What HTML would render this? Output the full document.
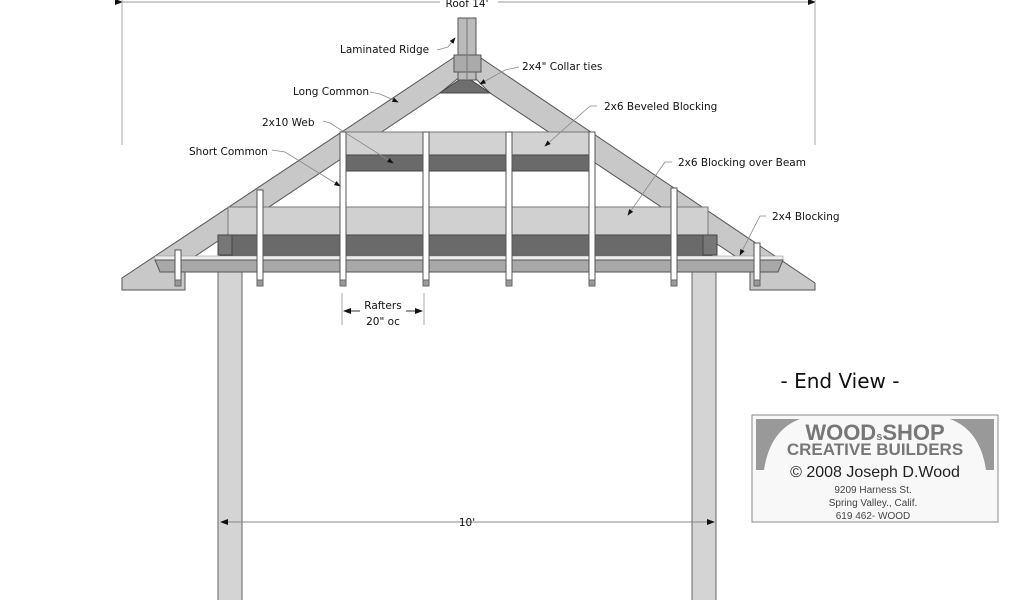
<!DOCTYPE html>
<html><head><meta charset="utf-8"><style>
html,body{margin:0;padding:0;background:#fff;width:1024px;height:600px;overflow:hidden}
text{font-family:"Liberation Sans",sans-serif}
.c{font-family:"DejaVu Sans","Liberation Sans",sans-serif;font-size:10.5px;fill:#111}
</style></head><body>
<svg width="1024" height="600" viewBox="0 0 1024 600" xmlns="http://www.w3.org/2000/svg">
<defs><marker id="a" markerWidth="8" markerHeight="6" refX="7" refY="3" orient="auto"><path d="M0,0 L8,3 L0,6z" fill="#111"/></marker></defs>
<line x1="122" y1="2" x2="815" y2="2" stroke="#999" marker-start="url(#a)" marker-end="url(#a)"/>
<line x1="122" y1="0" x2="122" y2="145" stroke="#aaa"/>
<line x1="815" y1="0" x2="815" y2="145" stroke="#aaa"/>
<rect x="440" y="0" width="58" height="8" fill="#fff"/>
<text x="467" y="7" class="c" text-anchor="middle">Roof 14'</text>
<rect x="218" y="272" width="24" height="330" fill="#d4d4d4" stroke="#666"/>
<rect x="692" y="272" width="24" height="330" fill="#d4d4d4" stroke="#666"/>
<polygon points="122,278 462,52 462,75 440,93 185,263 185,290 122,290" fill="#c8c8c8" stroke="#555"/>
<polygon points="815,283 472,52 472,75 490,93 750,266 750,290 815,290" fill="#c8c8c8" stroke="#555"/>
<polygon points="440,93 490,93 465,76" fill="#6e6e6e" stroke="#444"/>
<rect x="458" y="18" width="18" height="62" fill="#bbb" stroke="#555"/>
<rect x="454" y="55" width="27" height="17" fill="#aaa" stroke="#555"/>
<line x1="467" y1="18" x2="467" y2="80" stroke="#777"/>
<rect x="340" y="132" width="254" height="23" fill="#d2d2d2" stroke="#777"/>
<rect x="343" y="155" width="250" height="16" fill="#6a6a6a" stroke="#444"/>
<rect x="228" y="207" width="480" height="28" fill="#d0d0d0" stroke="#777"/>
<rect x="220" y="235" width="492" height="21" fill="#6a6a6a" stroke="#444"/>
<rect x="218" y="235" width="14" height="20" fill="#777" stroke="#444"/>
<rect x="703" y="235" width="14" height="20" fill="#777" stroke="#444"/>
<rect x="155" y="256" width="628" height="4" fill="#eee" stroke="#888" stroke-width=".5"/>
<polygon points="155,260 783,260 778,272 160,272" fill="#a8a8a8" stroke="#555"/>
<g fill="#fff" stroke="#555">
<rect x="175" y="250" width="6" height="30"/><rect x="257" y="190" width="6" height="90"/>
<rect x="340" y="132" width="6" height="148"/><rect x="423" y="132" width="6" height="148"/>
<rect x="506" y="132" width="6" height="148"/><rect x="589" y="132" width="6" height="148"/>
<rect x="671" y="188" width="6" height="92"/><rect x="754" y="243" width="6" height="37"/>
</g>
<g fill="#999" stroke="#666">
<rect x="175" y="280" width="6" height="6"/><rect x="257" y="280" width="6" height="6"/>
<rect x="340" y="280" width="6" height="6"/><rect x="423" y="280" width="6" height="6"/>
<rect x="506" y="280" width="6" height="6"/><rect x="589" y="280" width="6" height="6"/>
<rect x="671" y="280" width="6" height="6"/><rect x="754" y="280" width="6" height="6"/>
</g>
<g fill="none" stroke="#888" stroke-width=".8">
<path d="M437,50 L448,47 L455,38" marker-end="url(#a)"/>
<path d="M519,67 L505,70 L480,84" marker-end="url(#a)"/>
<path d="M370,92 L380,94 L398,102" marker-end="url(#a)"/>
<path d="M323,121 L330,123 L393,163" marker-end="url(#a)"/>
<path d="M272,150 L285,152 L340,186" marker-end="url(#a)"/>
<path d="M597,106 L590,106 L545,146" marker-end="url(#a)"/>
<path d="M672,162 L665,162 L628,215" marker-end="url(#a)"/>
<path d="M766,216 L760,216 L740,255" marker-end="url(#a)"/>
</g>
<text x="340" y="53" class="c">Laminated Ridge</text>
<text x="522" y="70" class="c">2x4" Collar ties</text>
<text x="293" y="95" class="c">Long Common</text>
<text x="604" y="110" class="c">2x6 Beveled Blocking</text>
<text x="262" y="126" class="c">2x10 Web</text>
<text x="189" y="155" class="c">Short Common</text>
<text x="678" y="166" class="c">2x6 Blocking over Beam</text>
<text x="772" y="220" class="c">2x4 Blocking</text>
<line x1="342" y1="293" x2="342" y2="325" stroke="#aaa"/>
<line x1="424" y1="293" x2="424" y2="325" stroke="#aaa"/>
<line x1="360" y1="311" x2="344" y2="311" stroke="#333" marker-end="url(#a)"/>
<line x1="406" y1="311" x2="422" y2="311" stroke="#333" marker-end="url(#a)"/>
<text x="383" y="309" class="c" text-anchor="middle">Rafters</text>
<text x="383" y="325" class="c" text-anchor="middle">20" oc</text>
<line x1="230" y1="522" x2="714" y2="522" stroke="#888" marker-end="url(#a)"/>
<line x1="230" y1="522" x2="221" y2="522" stroke="#888" marker-end="url(#a)"/>
<text x="467" y="526" class="c" text-anchor="middle">10'</text>
<text x="840" y="388" text-anchor="middle" class="c" style="font-size:20px">- End View -</text>
<rect x="752" y="415" width="246" height="107" fill="#f8f8f8" stroke="#888"/>
<path d="M756,419 L800,419 Q770,430 764,470 L756,470z" fill="#999"/>
<path d="M994,419 L950,419 Q980,430 986,470 L994,470z" fill="#999"/>
<text x="875" y="440" text-anchor="middle" font-size="22" font-weight="bold" fill="#777">WOOD<tspan font-size="11">s</tspan>SHOP</text>
<text x="875" y="455" text-anchor="middle" font-size="17" font-weight="bold" fill="#777">CREATIVE BUILDERS</text>
<text x="875" y="477" text-anchor="middle" font-size="16" fill="#222">© 2008 Joseph D.Wood</text>
<text x="873" y="493" text-anchor="middle" font-size="10" fill="#444">9209 Harness St.</text>
<text x="873" y="506" text-anchor="middle" font-size="10" fill="#444">Spring Valley., Calif.</text>
<text x="873" y="519" text-anchor="middle" font-size="10" fill="#444">619 462- WOOD</text>
</svg>
</body></html>
